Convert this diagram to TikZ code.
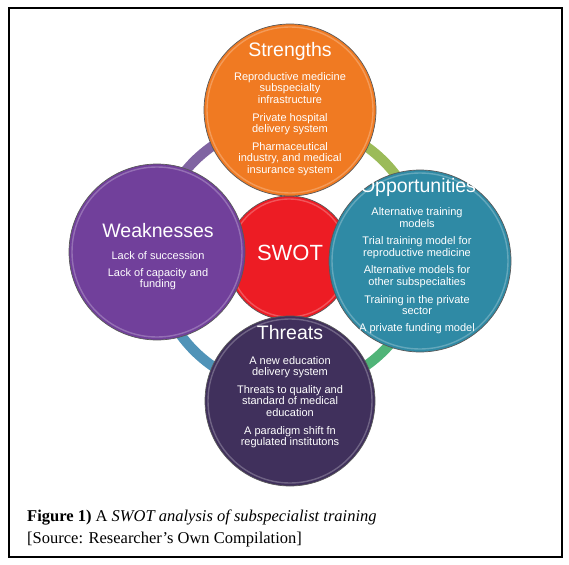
\documentclass[tikz,border=0pt]{standalone}
\usepackage{fontspec}
\setmainfont{Liberation Serif}
\setsansfont{Liberation Sans}
\usetikzlibrary{positioning}
\definecolor{swotorange}{RGB}{240,122,34}
\definecolor{swotpurple}{RGB}{113,64,155}
\definecolor{swotred}{RGB}{237,28,36}
\definecolor{swotteal}{RGB}{47,138,165}
\definecolor{swotdark}{RGB}{64,48,92}
\definecolor{ringlilac}{RGB}{128,100,162}
\definecolor{ringlime}{RGB}{155,187,89}
\definecolor{ringblue}{RGB}{80,147,184}
\definecolor{ringgreen}{RGB}{80,180,120}

\begin{document}
\begin{tikzpicture}[x=1pt,y=-1pt,
  bubble/.style={circle, draw=black!65, line width=0.7pt, inner sep=0pt, minimum size=#1},
  heading/.style={text=white, font=\sffamily\fontsize{19.5}{20}\selectfont},
  bullets/.style={text=white, align=center, inner sep=0pt, font=\sffamily\fontsize{11}{11.6}\selectfont},
  ringarc/.style={line width=10pt}]
  \useasboundingbox (0,0) rectangle (569,564);
  \draw[line width=1.1pt] (9,8) rectangle (562,557);
  \coordinate (ctr) at (289,256);
  \draw[ringarc, ringlilac] (ctr) ++(180:134) arc[start angle=180, end angle=270, radius=134];
  \draw[ringarc, ringlime] (ctr) ++(270:134) arc[start angle=270, end angle=360, radius=134];
  \draw[ringarc, ringgreen] (ctr) ++(0:134) arc[start angle=0, end angle=90, radius=134];
  \draw[ringarc, ringblue] (ctr) ++(90:134) arc[start angle=90, end angle=180, radius=134];
  \foreach \n/\x/\y/\d/\col in {core/289/258/124/swotred, str/290/110/172/swotorange,
      wea/157/252/176/swotpurple, opp/420/261/182/swotteal, thr/290/401/170/swotdark} {
    \node[bubble=\d pt, fill=\col] (\n) at (\x,\y) {};
    \draw[white, opacity=.25, line width=1.4pt] (\n.center) circle[radius=\d/2-3];
  }
  \node[heading, font=\sffamily\fontsize{22}{22}\selectfont] (corehead) at (290,253) {SWOT};
  \node[heading] (strhead) at (290,51) {Strengths};
  \node[bullets] (strtext) at (290,124) {Reproductive medicine\\subspecialty\\infrastructure\\[6pt]Private hospital\\delivery system\\[6pt]Pharmaceutical\\industry, and medical\\insurance system};
  \node[heading] (weahead) at (158,231) {Weaknesses};
  \node[bullets] (weatext) at (158,271) {Lack of succession\\[5pt]Lack of capacity and\\funding};
  \node[heading] (opphead) at (418,187) {Opportunities};
  \node[bullets] (opptext) at (417,270.5) {Alternative training\\models\\[6pt]Trial training model for\\reproductive medicine\\[6pt]Alternative models for\\other subspecialties\\[6pt]Training in the private\\sector\\[5pt]A private funding model};
  \node[heading] (thrhead) at (290,333) {Threats};
  \node[bullets] (thrtext) at (290,402) {A new education\\delivery system\\[6pt]Threats to quality and\\standard of medical\\education\\[6pt]A paradigm shift fn\\regulated institutons};
  \node[anchor=base west, inner sep=0pt, font=\fontsize{16.5}{18}\selectfont] (cap) at (27,521) {\textbf{Figure 1)} A \textit{SWOT analysis of subspecialist training}};
  \node[anchor=base west, inner sep=0pt, font=\fontsize{16.5}{18}\selectfont] (src) at (27,543) {[Source: Researcher's Own Compilation]};
\end{tikzpicture}
\end{document}
